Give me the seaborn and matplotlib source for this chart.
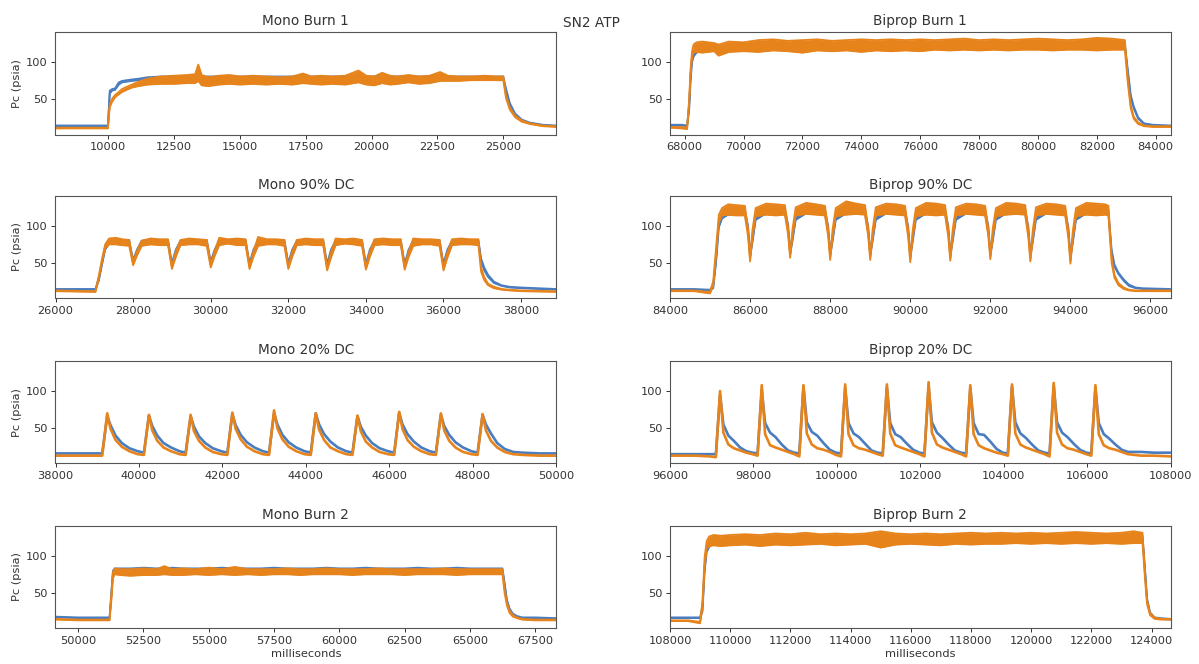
import numpy as np
import matplotlib
matplotlib.use("Agg")
import matplotlib.pyplot as plt
import seaborn as sns

# ---------------- data ----------------
# Mono Burn 1
t_mb1 = [8000, 9990, 10060, 10150, 10260, 10400, 10520, 10700, 10900, 11150, 11500, 12000, 12500, 13000, 13300,
         13420, 13550, 13800, 14200, 14600, 15000, 15500, 16000, 16500, 17000, 17400, 17700, 18100, 18500, 19000,
         19500, 19800, 20100, 20400, 20700, 21000, 21400, 21800, 22200, 22600, 22900, 23300, 23800, 24300, 24700,
         25000, 25100, 25250, 25450, 25700, 26000, 26500, 27000]
orange_lo_mb1 = [11, 11, 40, 47, 53, 57, 60, 63, 66, 68, 70, 71, 71, 72, 72, 75, 69, 68, 70, 71, 70, 71, 70, 71, 70,
                 72, 71, 70, 71, 70, 73, 70, 69, 72, 70, 71, 73, 71, 72, 75, 75, 75, 76, 76, 76, 76, 52, 36, 26, 20,
                 17, 14, 13]
orange_hi_mb1 = [12, 12, 44, 51, 56, 60, 64, 67, 70, 74, 78, 81, 82, 83, 84, 97, 83, 80, 82, 83, 81, 82, 81, 80, 81,
                 85, 81, 82, 81, 82, 89, 82, 81, 86, 82, 81, 83, 81, 82, 87, 82, 81, 81, 82, 81, 81, 56, 39, 28, 22,
                 18, 15, 14]
blue_lo_mb1 = [14, 14, 58, 62, 63, 70, 73, 74, 75, 76, 77, 78, 78, 78, 78, 79, 78, 78, 78, 78, 78, 78, 78, 78, 78,
               79, 78, 78, 78, 78, 79, 78, 78, 79, 78, 78, 79, 78, 78, 79, 78, 78, 78, 78, 78, 78, 62, 42, 29, 22,
               18, 15, 14]
blue_hi_mb1 = [15, 15, 62, 64, 65, 73, 75, 76, 77, 78, 80, 81, 81, 81, 81, 82, 81, 81, 81, 81, 81, 81, 81, 81, 81,
               83, 81, 81, 81, 81, 84, 81, 81, 83, 81, 81, 82, 81, 81, 84, 81, 81, 81, 81, 81, 81, 65, 45, 31, 23,
               19, 16, 15]

# Biprop Burn 1
t_bb1 = [67500, 67900, 68080, 68150, 68200, 68250, 68300, 68400, 68600, 69000, 69150, 69500, 70000, 70500, 71000,
         71500, 72000, 72500, 73000, 73500, 74000, 74500, 75000, 75500, 76000, 76500, 77000, 77500, 78000, 78500,
         79000, 79500, 80000, 80500, 81000, 81500, 82000, 82500, 82950, 83050, 83150, 83250, 83400, 83600, 83900,
         84500]
orange_lo_bb1 = [12, 11, 10, 45, 85, 108, 113, 114, 113, 115, 109, 114, 115, 114, 116, 115, 113, 116, 115, 116,
                 114, 116, 115, 116, 115, 117, 116, 117, 116, 117, 116, 117, 117, 116, 117, 117, 116, 117, 117, 72,
                 38, 24, 17, 14, 13, 13]
orange_hi_bb1 = [13, 13, 12, 50, 92, 115, 124, 127, 128, 126, 124, 128, 127, 130, 131, 129, 130, 131, 129, 130,
                 131, 130, 131, 130, 131, 130, 131, 132, 130, 131, 130, 131, 132, 131, 130, 131, 133, 132, 130, 78,
                 42, 27, 19, 15, 14, 14]
blue_lo_bb1 = [15, 15, 14, 35, 75, 100, 108, 113, 116, 118, 118, 119, 119, 119, 120, 120, 120, 120, 120, 121,
               121, 121, 121, 121, 121, 121, 121, 122, 122, 122, 122, 122, 122, 122, 122, 122, 122, 122, 122, 85,
               52, 38, 24, 17, 15, 14]
blue_hi_bb1 = [16, 16, 15, 42, 85, 108, 114, 117, 119, 121, 121, 122, 122, 122, 123, 123, 123, 123, 123, 124,
               124, 124, 124, 124, 124, 124, 124, 125, 125, 125, 125, 125, 125, 125, 125, 125, 125, 125, 125, 90,
               56, 41, 26, 18, 16, 15]

# Mono 90% DC
t_m90 = [26000, 27030, 27120, 27200, 27280, 27380, 27550, 27720,
         27900, 28000, 28100, 28220, 28450, 28680,
         28900, 29000, 29100, 29220, 29450, 29680,
         29900, 30000, 30100, 30220, 30450, 30680,
         30900, 31000, 31100, 31220, 31450, 31680,
         31900, 32000, 32100, 32220, 32450, 32680,
         32900, 33000, 33100, 33220, 33450, 33680,
         33900, 34000, 34100, 34220, 34450, 34680,
         34900, 35000, 35100, 35220, 35450, 35680,
         35900, 36000, 36100, 36220, 36450, 36680,
         36900, 36970, 37050, 37150, 37300, 37500, 37700, 38000, 38900]
orange_lo_m90 = [12, 11, 30, 52, 70, 75, 75, 74,
                 73, 47, 60, 73, 75, 74,
                 74, 42, 58, 74, 75, 75,
                 73, 44, 59, 74, 76, 74,
                 74, 42, 58, 73, 75, 75,
                 73, 42, 58, 74, 75, 74,
                 74, 40, 57, 74, 76, 75,
                 73, 41, 58, 74, 75, 74,
                 74, 41, 58, 73, 75, 75,
                 73, 40, 57, 74, 75, 75,
                 74, 38, 27, 20, 16, 14, 13, 12, 11]
orange_hi_m90 = [13, 12, 34, 56, 75, 83, 84, 82,
                 81, 51, 66, 80, 83, 82,
                 82, 46, 65, 81, 83, 82,
                 81, 48, 66, 84, 82, 83,
                 82, 46, 65, 85, 82, 82,
                 81, 46, 65, 81, 83, 82,
                 82, 44, 64, 83, 82, 83,
                 81, 45, 65, 82, 83, 82,
                 82, 45, 65, 83, 82, 82,
                 81, 44, 64, 82, 83, 82,
                 82, 44, 31, 22, 18, 15, 14, 13, 12]
blue_lo_m90 = [14, 14, 27, 48, 68, 76, 77, 77,
               76, 50, 62, 75, 77, 77,
               76, 46, 62, 75, 77, 77,
               76, 48, 62, 75, 77, 77,
               76, 46, 62, 75, 77, 77,
               76, 46, 62, 75, 77, 77,
               76, 45, 62, 75, 77, 77,
               76, 45, 62, 75, 77, 77,
               76, 45, 62, 75, 77, 77,
               76, 45, 62, 75, 77, 77,
               77, 52, 40, 31, 23, 19, 17, 16, 14]
blue_hi_m90 = [15, 15, 31, 52, 72, 80, 81, 81,
               81, 54, 68, 80, 81, 81,
               81, 50, 68, 80, 81, 81,
               81, 52, 68, 80, 81, 81,
               81, 50, 68, 80, 81, 81,
               81, 50, 68, 80, 81, 81,
               81, 49, 68, 80, 81, 81,
               81, 49, 68, 80, 81, 81,
               81, 49, 68, 80, 81, 81,
               81, 49, 68, 80, 81, 81,
               81, 56, 44, 34, 25, 20, 18, 17, 15]

# Biprop 90% DC
t_b90 = [84000, 84600, 85000, 85080, 85150, 85220, 85300, 85450, 85650,
         85870, 85950, 86000, 86060, 86140, 86400, 86650,
         86870, 86950, 87000, 87060, 87140, 87400, 87650,
         87870, 87950, 88000, 88060, 88140, 88400, 88650,
         88870, 88950, 89000, 89060, 89140, 89400, 89650,
         89870, 89950, 90000, 90060, 90140, 90400, 90650,
         90870, 90950, 91000, 91060, 91140, 91400, 91650,
         91870, 91950, 92000, 92060, 92140, 92400, 92650,
         92870, 92950, 93000, 93060, 93140, 93400, 93650,
         93870, 93950, 94000, 94060, 94140, 94400, 94650,
         94870, 94950, 95030, 95100, 95200, 95330, 95460, 95630, 95800, 96500]
orange_lo_b90 = [12, 12, 9, 20, 60, 105, 114, 115, 114,
                 114, 85, 52, 85, 113, 115, 114,
                 115, 88, 57, 86, 114, 116, 115,
                 114, 86, 54, 85, 113, 115, 116,
                 115, 86, 54, 85, 114, 116, 115,
                 114, 84, 51, 84, 113, 115, 114,
                 115, 85, 53, 85, 114, 116, 115,
                 114, 86, 55, 86, 113, 115, 116,
                 115, 84, 52, 84, 114, 116, 115,
                 114, 83, 49, 83, 113, 115, 114,
                 115, 114, 50, 30, 20, 15, 13, 12, 12, 12]
orange_hi_b90 = [13, 13, 11, 26, 70, 115, 124, 129, 128,
                 127, 95, 56, 95, 124, 130, 129,
                 128, 97, 61, 96, 125, 131, 129,
                 127, 96, 58, 95, 124, 133, 130,
                 128, 96, 58, 95, 125, 130, 129,
                 127, 94, 55, 94, 124, 131, 130,
                 128, 95, 57, 95, 125, 130, 129,
                 127, 96, 59, 96, 124, 131, 130,
                 128, 94, 56, 94, 125, 130, 129,
                 127, 93, 53, 93, 124, 131, 130,
                 129, 127, 58, 34, 23, 17, 14, 13, 13, 13]
blue_lo_b90 = [14, 14, 13, 16, 50, 98, 110, 115, 116,
               116, 92, 58, 78, 108, 117, 117,
               116, 94, 62, 80, 108, 117, 117,
               116, 92, 60, 79, 108, 117, 117,
               116, 92, 60, 79, 108, 117, 117,
               116, 91, 57, 78, 108, 117, 117,
               116, 92, 59, 79, 108, 117, 117,
               116, 92, 60, 79, 108, 117, 117,
               116, 91, 58, 78, 108, 117, 117,
               116, 90, 56, 77, 108, 117, 117,
               117, 116, 62, 45, 35, 26, 19, 16, 15, 14]
blue_hi_b90 = [15, 15, 14, 20, 58, 106, 116, 120, 121,
               121, 100, 62, 86, 114, 121, 121,
               121, 102, 66, 88, 114, 121, 121,
               121, 100, 64, 87, 114, 121, 121,
               121, 100, 64, 87, 114, 121, 121,
               121, 99, 61, 86, 114, 121, 121,
               121, 100, 63, 87, 114, 121, 121,
               121, 100, 64, 87, 114, 121, 121,
               121, 99, 62, 86, 114, 121, 121,
               121, 98, 60, 85, 114, 121, 121,
               121, 120, 68, 48, 37, 28, 21, 17, 16, 15]

# Mono 20% DC
t_m20 = [38000, 38600,
         39120, 39240, 39320, 39440, 39590, 39770, 39970,
         40120, 40240, 40320, 40440, 40590, 40770, 40970,
         41120, 41240, 41320, 41440, 41590, 41770, 41970,
         42120, 42240, 42320, 42440, 42590, 42770, 42970,
         43120, 43240, 43320, 43440, 43590, 43770, 43970,
         44120, 44240, 44320, 44440, 44590, 44770, 44970,
         45120, 45240, 45320, 45440, 45590, 45770, 45970,
         46120, 46240, 46320, 46440, 46590, 46770, 46970,
         47120, 47240, 47320, 47440, 47590, 47770, 47970,
         48120, 48240, 48320, 48440, 48590, 48770, 48970,
         49200, 49600, 50000]
orange_m20 = [13, 13,
              13, 70, 49, 34, 25, 19, 15,
              14, 68, 47, 33, 24, 19, 15,
              14, 68, 46, 33, 24, 18, 15,
              14, 71, 49, 35, 25, 19, 15,
              14, 74, 50, 35, 25, 19, 15,
              14, 70, 48, 34, 24, 19, 15,
              14, 67, 46, 32, 24, 18, 15,
              14, 72, 49, 34, 25, 19, 15,
              14, 70, 47, 33, 24, 18, 15,
              14, 69, 47, 33, 24, 18, 15,
              14, 13, 13]
blue_m20 = [16, 16,
            16, 66, 54, 40, 30, 23, 19,
            17, 67, 53, 40, 30, 24, 19,
            17, 66, 52, 39, 30, 23, 19,
            17, 69, 54, 41, 31, 24, 19,
            17, 70, 55, 41, 31, 24, 19,
            17, 70, 55, 42, 32, 24, 19,
            17, 66, 52, 40, 30, 23, 19,
            17, 71, 55, 42, 32, 24, 19,
            17, 68, 53, 41, 31, 24, 19,
            17, 68, 55, 43, 30, 22, 18,
            17, 16, 16]

# Biprop 20% DC
t_b20 = [96000, 96600, 96950,
         97100, 97200, 97280, 97400, 97530, 97680, 97830, 97980,
         98100, 98200, 98280, 98400, 98530, 98680, 98830, 98980,
         99100, 99200, 99280, 99400, 99530, 99680, 99830, 99980,
         100100, 100200, 100280, 100400, 100530, 100680, 100830, 100980,
         101100, 101200, 101280, 101400, 101530, 101680, 101830, 101980,
         102100, 102200, 102280, 102400, 102530, 102680, 102830, 102980,
         103100, 103200, 103280, 103400, 103530, 103680, 103830, 103980,
         104100, 104200, 104280, 104400, 104530, 104680, 104830, 104980,
         105100, 105200, 105280, 105400, 105530, 105680, 105830, 105980,
         106100, 106200, 106280, 106400, 106530, 106680, 106830, 106980,
         107300, 107600, 108000]
orange_b20 = [13, 13, 12,
              11, 100, 44, 28, 23, 20, 17, 15,
              13, 108, 42, 27, 24, 21, 18, 15,
              12, 108, 43, 28, 23, 21, 18, 14,
              12, 109, 42, 27, 23, 21, 18, 15,
              13, 109, 43, 27, 24, 21, 18, 15,
              12, 112, 44, 28, 24, 21, 18, 15,
              12, 108, 42, 27, 23, 20, 17, 15,
              13, 109, 43, 28, 24, 21, 18, 15,
              12, 111, 44, 28, 23, 21, 18, 15,
              13, 108, 42, 27, 23, 21, 18, 15,
              13, 13, 12]
blue_b20 = [15, 15, 15,
            15, 95, 55, 40, 33, 24, 19, 17,
            16, 101, 57, 44, 38, 28, 20, 17,
            16, 106, 58, 45, 40, 30, 21, 17,
            16, 104, 57, 43, 38, 29, 20, 17,
            16, 105, 57, 42, 38, 29, 21, 17,
            16, 106, 58, 44, 37, 28, 20, 17,
            16, 104, 57, 42, 41, 32, 22, 17,
            16, 106, 58, 43, 37, 28, 20, 17,
            16, 107, 58, 44, 38, 29, 21, 17,
            16, 104, 57, 42, 36, 28, 21, 18,
            18, 17, 17]

# Mono Burn 2
t_mb2 = [49130, 50000, 51000, 51200, 51270, 51330, 51400, 51600, 52000, 52500, 53000, 53300, 53600, 54000, 54500,
         55000, 55500, 56000, 56500, 57000, 57500, 58000, 58500, 59000, 59500, 60000, 60500, 61000, 61500, 62000,
         62500, 63000, 63500, 64000, 64500, 65000, 65500, 66000, 66250, 66330, 66420, 66520, 66650, 66800, 67000,
         67500, 68300]
orange_lo_mb2 = [14, 13, 13, 13, 40, 70, 75, 74, 73, 74, 74, 75, 74, 74, 75, 74, 75, 74, 75, 74, 75, 75, 74, 75,
                 75, 75, 74, 75, 75, 75, 74, 75, 75, 75, 74, 75, 75, 75, 75, 50, 33, 23, 18, 16, 14, 13, 13]
orange_hi_mb2 = [15, 14, 14, 14, 48, 78, 83, 82, 82, 83, 82, 86, 82, 83, 82, 84, 82, 85, 82, 82, 82, 83, 82, 82,
                 83, 82, 82, 82, 83, 82, 82, 82, 82, 83, 82, 82, 82, 82, 82, 56, 37, 26, 20, 17, 15, 14, 14]
blue_lo_mb2 = [17, 16, 16, 16, 45, 76, 80, 80, 80, 81, 80, 80, 81, 80, 80, 80, 81, 80, 80, 80, 81, 80, 80, 80,
               81, 80, 80, 81, 80, 80, 80, 81, 80, 80, 81, 80, 80, 80, 80, 60, 38, 27, 21, 18, 16, 16, 15]
blue_hi_mb2 = [18, 17, 17, 17, 52, 80, 83, 83, 83, 84, 83, 83, 84, 83, 83, 83, 84, 83, 83, 83, 84, 83, 83, 83,
               84, 83, 83, 84, 83, 83, 83, 84, 83, 83, 84, 83, 83, 83, 83, 64, 41, 29, 22, 19, 17, 17, 16]

# Biprop Burn 2
t_bb2 = [108000, 108600, 109000, 109080, 109150, 109220, 109300, 109450, 109700, 110000, 110500, 111000, 111500,
         112000, 112500, 113000, 113500, 114000, 114500, 115000, 115500, 116000, 116500, 117000, 117500, 118000,
         118500, 119000, 119500, 120000, 120500, 121000, 121500, 122000, 122500, 123000, 123400, 123700, 123780,
         123850, 123950, 124100, 124300, 124630]
orange_lo_bb2 = [12, 12, 9, 30, 85, 110, 113, 114, 113, 114, 115, 113, 115, 114, 115, 116, 114, 115, 116, 111,
                 115, 116, 115, 114, 116, 115, 116, 116, 117, 116, 117, 116, 117, 116, 117, 116, 117, 117, 70, 35,
                 20, 15, 14, 14]
orange_hi_bb2 = [13, 13, 11, 40, 98, 120, 126, 128, 127, 128, 129, 128, 130, 129, 131, 129, 130, 129, 130, 133,
                 130, 129, 130, 129, 130, 131, 130, 131, 130, 131, 130, 131, 132, 131, 130, 131, 133, 131, 78, 40,
                 23, 17, 15, 15]
blue_lo_bb2 = [16, 16, 16, 25, 78, 105, 112, 116, 118, 119, 119, 119, 120, 120, 120, 120, 120, 120, 121, 121,
               121, 121, 121, 121, 121, 122, 122, 122, 122, 122, 122, 123, 123, 123, 123, 123, 123, 123, 80, 40,
               22, 16, 15, 14]
blue_hi_bb2 = [17, 17, 17, 32, 88, 112, 117, 120, 121, 122, 122, 122, 123, 123, 123, 123, 123, 123, 124, 124,
               124, 124, 124, 124, 124, 125, 125, 125, 125, 125, 125, 126, 126, 126, 126, 126, 126, 126, 85, 43,
               24, 17, 16, 15]

titles = ["Mono Burn 1", "Biprop Burn 1", "Mono 90% DC", "Biprop 90% DC",
          "Mono 20% DC", "Biprop 20% DC", "Mono Burn 2", "Biprop Burn 2"]
xlims = [(8000, 27000), (67500, 84500), (26000, 38900), (84000, 96500),
         (38000, 50000), (96000, 108000), (49130, 68300), (108000, 124630)]
xtick_steps = [2500, 2000, 2000, 2000, 2000, 2000, 2500, 2000]
yticks = [50, 100]
ylim = (2.7, 140.5)

# ---------------- styling ----------------
sns.set_style("ticks")
plt.rcParams["font.family"] = ["DejaVu Sans"]
BLUE = "#4a7dc0"
ORANGE = "#e6831b"
TXT = "#333333"

fig = plt.figure(figsize=(11.99, 6.64), dpi=100)
W, H = 1199.0, 664.0
col_left = [55.5, 670.0]
col_w = 500.5
row_top = [32.3, 195.8, 361.0, 525.7]
ax_h = 102.3

band_panels = {
    0: (t_mb1, blue_lo_mb1, blue_hi_mb1, orange_lo_mb1, orange_hi_mb1),
    1: (t_bb1, blue_lo_bb1, blue_hi_bb1, orange_lo_bb1, orange_hi_bb1),
    2: (t_m90, blue_lo_m90, blue_hi_m90, orange_lo_m90, orange_hi_m90),
    3: (t_b90, blue_lo_b90, blue_hi_b90, orange_lo_b90, orange_hi_b90),
    6: (t_mb2, blue_lo_mb2, blue_hi_mb2, orange_lo_mb2, orange_hi_mb2),
    7: (t_bb2, blue_lo_bb2, blue_hi_bb2, orange_lo_bb2, orange_hi_bb2),
}
line_panels = {
    4: (t_m20, blue_m20, orange_m20),
    5: (t_b20, blue_b20, orange_b20),
}

for i in range(8):
    r, c = divmod(i, 2)
    rect = [col_left[c] / W, 1 - (row_top[r] + ax_h) / H, col_w / W, ax_h / H]
    ax = fig.add_axes(rect)
    if i in band_panels:
        t, blo, bhi, olo, ohi = band_panels[i]
        for lo, hi, col, z in ((blo, bhi, BLUE, 2), (olo, ohi, ORANGE, 4)):
            ax.fill_between(t, lo, hi, color=col, linewidth=0, zorder=z)
            sns.lineplot(x=t, y=lo, ax=ax, color=col, linewidth=1.3, estimator=None, zorder=z + 0.5)
            sns.lineplot(x=t, y=hi, ax=ax, color=col, linewidth=1.3, estimator=None, zorder=z + 0.5)
    else:
        t, bv, ov = line_panels[i]
        sns.lineplot(x=t, y=bv, ax=ax, color=BLUE, linewidth=1.9, estimator=None, zorder=2)
        sns.lineplot(x=t, y=ov, ax=ax, color=ORANGE, linewidth=1.9, estimator=None, zorder=4)

    ax.set_xlim(*xlims[i])
    ax.set_ylim(*ylim)
    ax.set_yticks(yticks)
    lo_t = int(np.ceil(xlims[i][0] / xtick_steps[i]) * xtick_steps[i])
    ax.set_xticks(range(lo_t, xlims[i][1] + 1, xtick_steps[i]))
    ax.ticklabel_format(axis="x", style="plain", useOffset=False)
    ax.tick_params(labelsize=8.2, colors=TXT, length=3, width=0.7, pad=2.5)
    for s in ax.spines.values():
        s.set_color("#555555")
        s.set_linewidth(0.8)
        s.set_zorder(6)
    ax.set_title(titles[i], fontsize=9.8, color=TXT, pad=5)
    ax.set_xlabel("milliseconds" if r == 3 else "", fontsize=8.2, color=TXT, labelpad=2.5)
    ax.set_ylabel("Pc (psia)" if c == 0 else "", fontsize=8.2, color=TXT, labelpad=3)

fig.text(591 / W, 1 - 23 / H, "SN2 ATP", ha="center", va="center", fontsize=9.8, color=TXT)

fig.savefig("out.png", dpi=100)
